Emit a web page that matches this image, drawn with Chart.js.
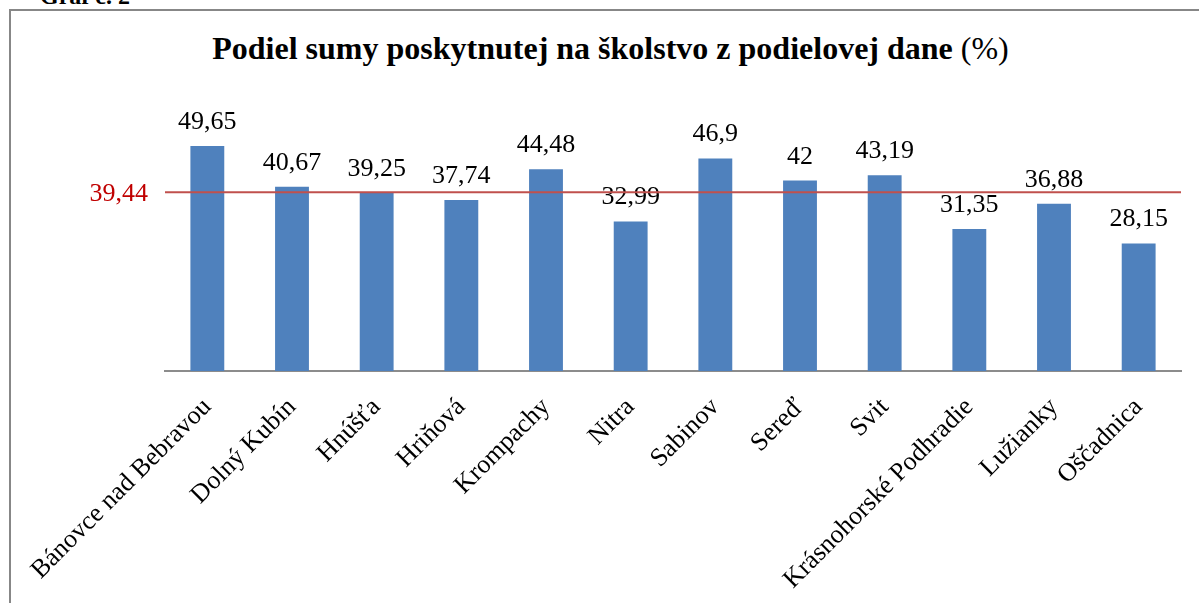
<!DOCTYPE html>
<html>

<head>
    <meta charset="utf-8">
    <title>Graf č. 2</title>
    <script src="https://cdn.jsdelivr.net/npm/chart.js@4.4.0/dist/chart.umd.min.js"></script>
    <style>
        body {
            margin: 0;
            width: 1199px;
            height: 603px;
            overflow: hidden;
            background: #fff;
            position: relative;
            font-family: 'Liberation Serif', 'Times New Roman', serif;
        }

        .caption {
            position: absolute;
            left: 40px;
            top: -17px;
            font-size: 24px;
            font-weight: bold;
        }

        .frame {
            position: absolute;
            left: 9px;
            top: 9px;
            width: 1210px;
            height: 620px;
            border: 2px solid #878787;
        }

        .title {
            position: absolute;
            left: 0;
            width: 1221px;
            top: 30px;
            text-align: center;
            font-size: 32px;
            white-space: nowrap;
        }

        .title b {
            font-weight: bold;
        }

        .chart-container {
            position: absolute;
            left: 0;
            top: 0;
            width: 1199px;
            height: 603px;
        }
    </style>
</head>

<body>
    <div class="caption">Graf č. 2</div>
    <div class="frame"></div>
    <div class="title"><b>Podiel sumy poskytnutej na školstvo z podielovej dane</b> (%)</div>
    <div class="chart-container">
        <canvas id="chart"></canvas>
    </div>

    <script>
        const towns = ['Bánovce nad Bebravou', 'Dolný Kubín', 'Hnúšťa', 'Hriňová', 'Krompachy', 'Nitra',
            'Sabinov', 'Sereď', 'Svit', 'Krásnohorské Podhradie', 'Lužianky', 'Oščadnica'];
        const shares = [49.65, 40.67, 39.25, 37.74, 44.48, 32.99, 46.9, 42, 43.19, 31.35, 36.88, 28.15];
        const average = 39.44;

        const serif = "'Liberation Serif', 'Times New Roman', serif";
        const fmt = v => String(v).replace('.', ',');

        // hodnoty nad stĺpcami + priemerná čiara
        const extras = {
            id: 'extras',
            afterDatasetsDraw(chart) {
                const { ctx, chartArea, scales } = chart;
                const meta = chart.getDatasetMeta(0);
                ctx.save();
                ctx.font = '26px ' + serif;
                ctx.fillStyle = '#000';
                ctx.textAlign = 'center';
                ctx.textBaseline = 'alphabetic';
                meta.data.forEach((bar, i) => {
                    ctx.fillText(fmt(shares[i]), bar.x, bar.y - 17);
                });

                const y = scales.y.getPixelForValue(average);
                ctx.strokeStyle = '#C0504D';
                ctx.lineWidth = 2;
                ctx.beginPath();
                ctx.moveTo(chartArea.left, y);
                ctx.lineTo(chartArea.right, y);
                ctx.stroke();

                ctx.fillStyle = '#C00000';
                ctx.textAlign = 'right';
                ctx.textBaseline = 'middle';
                ctx.fillText(fmt(average), chartArea.left - 17, y + 2);
                ctx.restore();
            }
        };

        Chart.defaults.font.family = serif;
        Chart.defaults.color = '#000';

        new Chart(document.getElementById('chart'), {
            type: 'bar',
            data: {
                labels: towns,
                datasets: [{
                    data: shares,
                    backgroundColor: '#4F81BD',
                    barPercentage: 0.4,
                    categoryPercentage: 1
                }]
            },
            options: {
                responsive: true,
                maintainAspectRatio: false,
                animation: false,
                layout: {
                    padding: { left: 165, right: 18, top: 99, bottom: 0 }
                },
                scales: {
                    y: {
                        display: false,
                        min: 0,
                        max: 60
                    },
                    x: {
                        grid: { display: false, drawTicks: false },
                        border: { display: true, color: '#8C8C8C', width: 2 },
                        ticks: {
                            maxRotation: 45,
                            minRotation: 45,
                            autoSkip: false,
                            padding: 21,
                            font: { size: 26 }
                        },
                        afterFit(scale) {
                            scale.height = 232;
                        }
                    }
                },
                plugins: {
                    legend: { display: false },
                    tooltip: { enabled: false }
                }
            },
            plugins: [extras]
        });
    </script>
</body>

</html>
